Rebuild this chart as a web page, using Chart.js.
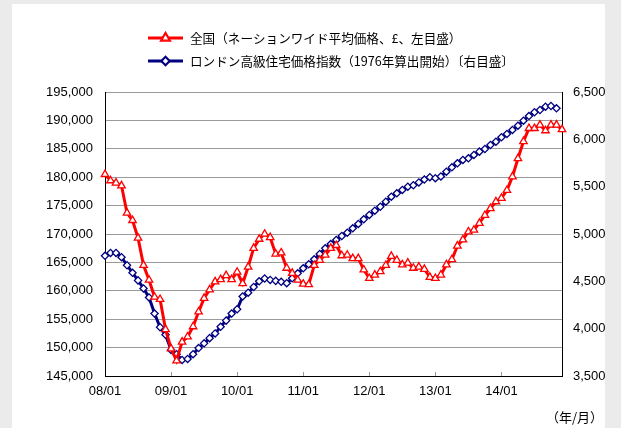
<!DOCTYPE html>
<html>
<head>
<meta charset="utf-8">
<script src="https://cdn.jsdelivr.net/npm/chart.js@4.4.1/dist/chart.umd.min.js"></script>
<style>
  html, body { margin: 0; padding: 0; background: #ebebeb; }
  #card { position: absolute; left: 12px; top: 4px; width: 593px; height: 424px; background: #fff; }
  #wrap { position: absolute; left: 0; top: 0; width: 621px; height: 428px; }
</style>
</head>
<body>
<div id="card"></div>
<div id="wrap"><canvas id="chart" width="621" height="428"></canvas></div>
<script>
// years on the axis, each with 12 months
const years = ['08', '09', '10', '11', '12', '13', '14'];
const months = ['01', '02', '03', '04', '05', '06', '07', '08', '09', '10', '11', '12'];

// Nationwide average price (GBP, left axis), 08/01 - 14/12
const nationwide = [
  180500, 179400, 179000, 178500, 173700, 172400, 169300, 164500, 161900, 158900, 158500, 153200,
  149800, 147700, 151000, 151900, 153700, 156300, 158700, 160200, 161600, 162000, 162700, 162000,
  163300, 161300, 164200, 167500, 169100, 170000, 169400, 166500, 166700, 164000, 163100, 161900,
  161200, 161100, 164500, 165400, 166300, 167500, 168000, 166200, 166300, 165700, 165700, 163700,
  162200, 162800, 163400, 164500, 166100, 165400, 164600, 164900, 164000, 164200, 163800, 162400,
  162200, 162800, 164600, 165500, 167900, 169000, 170400, 170700, 171900, 173300, 174500, 175700,
  176300, 177700, 180100, 183300, 186300, 188600, 188600, 189200, 188200, 189200, 189200, 188400
];

// London prime residential index (right axis), 08/01 - 14/11
const londonIndex = [
  4770, 4800, 4800, 4755, 4670, 4590, 4510, 4425, 4330, 4160, 4015, 3935,
  3775, 3730, 3670, 3680, 3730, 3795, 3845, 3900, 3950, 4020, 4085, 4160,
  4205, 4340, 4380, 4440, 4500, 4530, 4515, 4505, 4495, 4480, 4532, 4585,
  4638, 4680, 4733, 4789, 4849, 4894, 4937, 4979, 5014, 5060, 5106, 5155,
  5201, 5246, 5288, 5341, 5394, 5430, 5465, 5500, 5515, 5545, 5575, 5600,
  5590, 5608, 5658, 5704, 5747, 5782, 5800, 5835, 5870, 5898, 5940, 5975,
  6022, 6057, 6099, 6144, 6197, 6246, 6286, 6310, 6345, 6352, 6328
];

const legendNames = [
  '全国（ネーションワイド平均価格、£、左目盛）',
  'ロンドン高級住宅価格指数（1976年算出開始）〔右目盛〕'
];
const unitLabel = '（年/月）';

const labels = [];
years.forEach(y => months.forEach(m => labels.push(y + '/' + m)));

const tickFont = { family: '"Liberation Sans", Arial, sans-serif', size: 13 };
const jpFont = '12.6px "Noto Sans CJK JP", sans-serif';

// legend with line + marker, axis unit, small inner x ticks
const extras = {
  id: 'extras',
  afterDraw(chart) {
    const ctx = chart.ctx;
    const area = chart.chartArea;
    const x = chart.scales.x;
    ctx.save();
    ctx.strokeStyle = '#999';
    ctx.lineWidth = 1;
    labels.forEach((l, i) => {
      if (i % 12 !== 0 || i === 0) return;
      const px = Math.round(x.getPixelForValue(i)) + 0.5;
      ctx.beginPath();
      ctx.moveTo(px, area.bottom);
      ctx.lineTo(px, area.bottom - 4);
      ctx.stroke();
    });

    const rows = [38, 61];
    chart.data.datasets.forEach((ds, i) => {
      const y = rows[i];
      ctx.strokeStyle = ds.borderColor;
      ctx.lineWidth = 3;
      ctx.beginPath();
      ctx.moveTo(148, y);
      ctx.lineTo(183, y);
      ctx.stroke();
      Chart.helpers.drawPoint(ctx, {
        pointStyle: ds.pointStyle,
        radius: ds.pointRadius,
        borderWidth: ds.pointBorderWidth
      }, 165.5, y);
      ctx.fillStyle = ds.pointBackgroundColor;
      ctx.strokeStyle = ds.borderColor;
      ctx.lineWidth = ds.pointBorderWidth;
      ctx.fill();
      ctx.stroke();
      ctx.fillStyle = '#000';
      ctx.font = jpFont;
      ctx.textBaseline = 'middle';
      ctx.textAlign = 'left';
      ctx.fillText(legendNames[i], 190, y);
    });

    ctx.fillStyle = '#000';
    ctx.font = '13px "Noto Sans CJK JP", sans-serif';
    ctx.textAlign = 'right';
    ctx.textBaseline = 'middle';
    ctx.fillText(unitLabel, 603, 417);
    ctx.restore();
  }
};

new Chart(document.getElementById('chart'), {
  type: 'line',
  data: {
    labels: labels,
    datasets: [{
      label: legendNames[0],
      data: nationwide,
      yAxisID: 'y',
      borderColor: '#ff0000',
      borderWidth: 3,
      pointStyle: 'triangle',
      pointRadius: 4.3,
      pointBorderWidth: 1.3,
      pointBackgroundColor: '#ffffff',
      pointBorderColor: '#ff0000',
      tension: 0,
      clip: false
    }, {
      label: legendNames[1],
      data: londonIndex,
      yAxisID: 'y2',
      borderColor: '#000080',
      borderWidth: 3,
      pointStyle: 'rectRot',
      pointRadius: 3.6,
      pointBorderWidth: 1.3,
      pointBackgroundColor: '#ffffff',
      pointBorderColor: '#000080',
      tension: 0,
      clip: false
    }]
  },
  options: {
    responsive: false,
    animation: false,
    layout: { padding: { left: 0, right: 0, top: 92, bottom: 0 } },
    plugins: { legend: { display: false }, tooltip: { enabled: false } },
    scales: {
      x: {
        type: 'category',
        offset: false,
        grid: { display: false, drawTicks: false },
        border: { display: true, color: '#000', width: 1 },
        ticks: {
          autoSkip: false,
          maxRotation: 0,
          padding: 8,
          color: '#000',
          font: tickFont,
          callback: (v, i) => (i % 12 === 0 ? labels[i] : '')
        },
        afterFit: s => { s.height = 52; }
      },
      y: {
        position: 'left',
        min: 145000,
        max: 195000,
        grid: { color: '#9a9a9a', borderDash: [2, 1], drawTicks: false, lineWidth: 1 },
        border: { color: '#000', width: 1, dash: [] },
        ticks: {
          stepSize: 5000,
          padding: 12,
          color: '#000',
          font: tickFont,
          callback: v => v.toLocaleString('en-US')
        },
        afterFit: s => { s.width = 105; }
      },
      y2: {
        position: 'right',
        min: 3500,
        max: 6500,
        grid: { display: false, drawTicks: false },
        border: { color: '#000', width: 1 },
        ticks: {
          stepSize: 500,
          padding: 11,
          color: '#000',
          font: tickFont,
          callback: v => v.toLocaleString('en-US')
        },
        afterFit: s => { s.width = 59; }
      }
    }
  },
  plugins: [extras]
});
</script>
</body>
</html>
